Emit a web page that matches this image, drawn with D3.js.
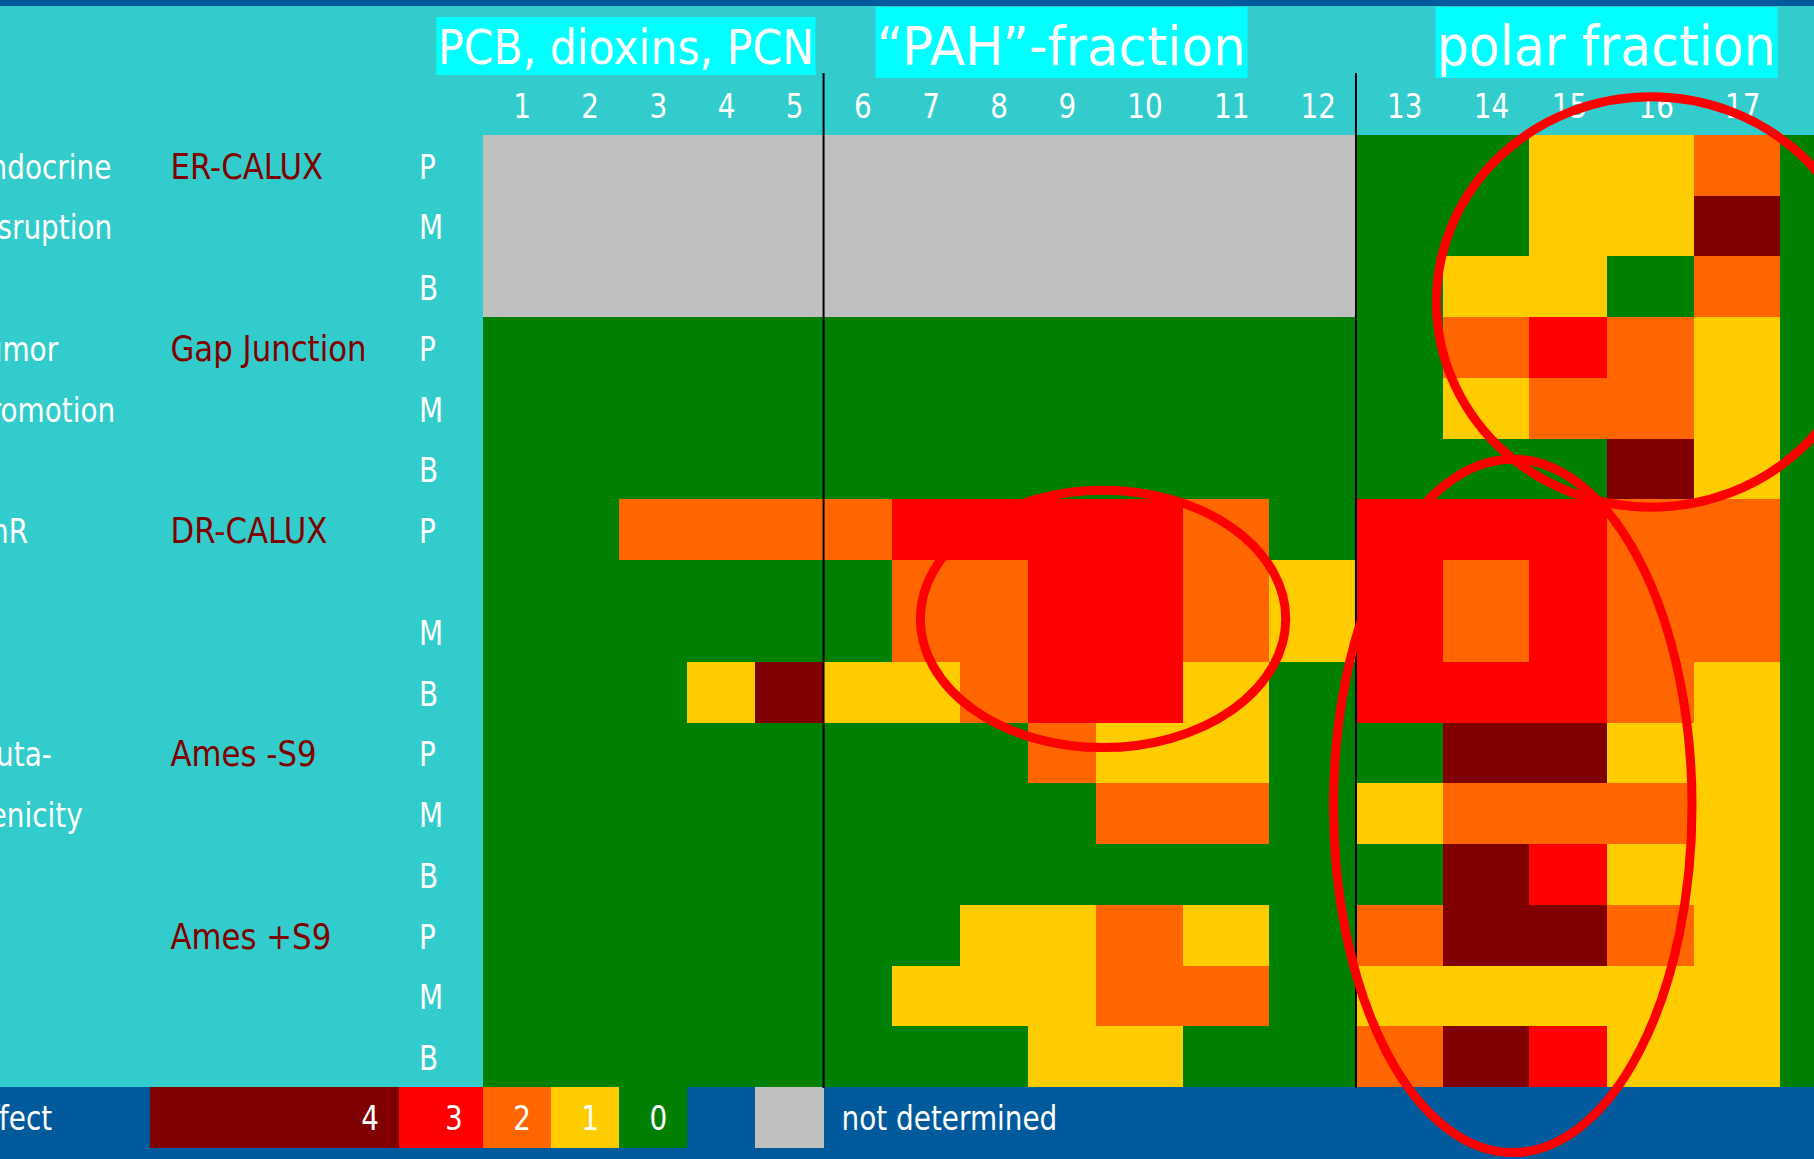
<!DOCTYPE html>
<html>
<head>
<meta charset="utf-8">
<script src="https://cdn.jsdelivr.net/npm/d3@7"></script>
<style>
  html, body { margin: 0; padding: 0; background: #33cccc; overflow: hidden; }
  text { font-family: "DejaVu Sans", Verdana, sans-serif; }
</style>
</head>
<body>
<script>
// column numbers (samples), grouped by fraction
var columns = [1, 2, 3, 4, 5, 6, 7, 8, 9, 10, 11, 12, 13, 14, 15, 16, 17, 18];
var fractionTitles = ["PCB, dioxins, PCN", "\u201CPAH\u201D-fraction", "polar fraction"];
var fractionEnds = [5, 12, 18];   // last column of each fraction

var assays = ["ER-CALUX", "Gap Junction", "DR-CALUX", "Ames -S9", "Ames +S9"];
var endpoints = [["Endocrine", "disruption"], ["Tumor", "promotion"], ["AhR"], ["Muta-", "genicity"], []];
var sampleTypes = ["P", "M", "B"];

// effect score per column (null = not determined)
var n = null;
var erCalux = [
  [n, n, n, n, n, n, n, n, n, n, n, n, 0, 0, 1, 1, 2, 0],
  [n, n, n, n, n, n, n, n, n, n, n, n, 0, 0, 1, 1, 4, 0],
  [n, n, n, n, n, n, n, n, n, n, n, n, 0, 1, 1, 0, 2, 0]
];
var gapJunction = [
  [0, 0, 0, 0, 0, 0, 0, 0, 0, 0, 0, 0, 0, 2, 3, 2, 1, 0],
  [0, 0, 0, 0, 0, 0, 0, 0, 0, 0, 0, 0, 0, 1, 2, 2, 1, 0],
  [0, 0, 0, 0, 0, 0, 0, 0, 0, 0, 0, 0, 0, 0, 0, 4, 1, 0]
];
var drCalux = [
  [0, 0, 2, 2, 2, 2, 3, 3, 3, 3, 2, 0, 3, 3, 3, 2, 2, 0],
  [0, 0, 0, 0, 0, 0, 2, 2, 3, 3, 2, 1, 3, 2, 3, 2, 2, 0],
  [0, 0, 0, 1, 4, 1, 1, 2, 3, 3, 1, 0, 3, 3, 3, 2, 1, 0]
];
var amesMinusS9 = [
  [0, 0, 0, 0, 0, 0, 0, 0, 2, 1, 1, 0, 0, 4, 4, 1, 1, 0],
  [0, 0, 0, 0, 0, 0, 0, 0, 0, 2, 2, 0, 1, 2, 2, 2, 1, 0],
  [0, 0, 0, 0, 0, 0, 0, 0, 0, 0, 0, 0, 0, 4, 3, 1, 1, 0]
];
var amesPlusS9 = [
  [0, 0, 0, 0, 0, 0, 0, 1, 1, 2, 1, 0, 2, 4, 4, 2, 1, 0],
  [0, 0, 0, 0, 0, 0, 1, 1, 1, 2, 2, 0, 1, 1, 1, 1, 1, 0],
  [0, 0, 0, 0, 0, 0, 0, 0, 1, 1, 0, 0, 2, 4, 3, 1, 1, 0]
];
var scores = [erCalux, gapJunction, drCalux, amesMinusS9, amesPlusS9];

var effectLevels = [4, 3, 2, 1, 0];
var effectColors = ["#800000", "#ff0000", "#ff6600", "#ffcc00", "#008000"];
var notDeterminedColor = "#c0c0c0";

var w = 1814, h = 1159;
var blue = "#005a9c", white = "#ffffff", darkRed = "#800000";

var svg = d3.select("body").append("svg")
  .attr("width", w)
  .attr("height", h);

svg.append("rect").attr("width", w).attr("height", h).style("fill", "#33cccc");
svg.append("rect").attr("width", w).attr("height", 6).style("fill", blue);

// column widths in units (two-digit columns are wider)
var colUnits = columns.map(function(c) { return c < 10 ? 1 : (c == 15 ? 1.147 : 1.27); });
var colEdges = [0];
colUnits.forEach(function(u, i) { colEdges.push(colEdges[i] + u); });
var x = d3.scaleLinear()
  .domain([0, 1])
  .range([482.7, 482.7 + 68.17]);

// rows
var rows = [];
var yCursor = 0;
assays.forEach(function(a, ai) {
  sampleTypes.forEach(function(s, si) {
    var hUnits = (a == "DR-CALUX" && s == "M") ? 1.68 : 1;
    rows.push({assay: ai, type: si, y0: yCursor, y1: yCursor + hUnits, values: scores[ai][si]});
    yCursor += hUnits;
  });
});
var y = d3.scaleLinear()
  .domain([0, yCursor])
  .range([135, 1087]);

function color(v) {
  return v === null ? notDeterminedColor : effectColors[effectLevels.indexOf(v)];
}

function addText(g, tx, ty, str, opt) {
  opt = opt || {};
  return g.append("text")
    .attr("transform", "translate(" + tx + "," + ty + ") scale(" + (opt.sx || 0.82) + ",1)")
    .attr("text-anchor", opt.anchor || "start")
    .attr("font-size", opt.size || 34)
    .style("fill", opt.fill || white)
    .text(str);
}

// cells
var cells = svg.append("g").attr("shape-rendering", "crispEdges");
rows.forEach(function(r) {
  cells.selectAll(null)
    .data(r.values)
    .enter().append("rect")
    .attr("x", function(d, i) { return x(colEdges[i]); })
    .attr("width", function(d, i) { return x(colEdges[i + 1]) - x(colEdges[i]); })
    .attr("y", y(r.y0))
    .attr("height", y(r.y1) - y(r.y0))
    .style("fill", color);
});

// row labels
var labels = svg.append("g");
rows.forEach(function(r) {
  var base = y(r.y1) - 17;
  addText(labels, 419, base, sampleTypes[r.type]);
  var ep = endpoints[r.assay][r.type];
  if (ep) addText(labels, -28, base, ep);
  if (r.type == 0) addText(labels, 170.5, base, assays[r.assay], {fill: darkRed, size: 35, sx: 0.88});
});

// column numbers
var colLabels = svg.append("g");
columns.forEach(function(c, i) {
  addText(colLabels, x(colEdges[i + 1]) - 20, 118, c, {anchor: "end"});
});

// fraction titles with cyan boxes
var titleLayout = [
  {x: 438, width: 376, size: 48, base: 64.3, top: 17, bottom: 75},
  {x: 877, width: 369, size: 53, base: 65, top: 7, bottom: 78},
  {x: 1437, width: 339, size: 55, base: 65, top: 7, bottom: 78}
];
fractionTitles.forEach(function(t, i) {
  var L = titleLayout[i];
  svg.append("rect")
    .attr("x", L.x - 1.5).attr("y", L.top)
    .attr("width", L.width + 3).attr("height", L.bottom - L.top)
    .style("fill", "#00ffff");
  svg.append("text")
    .attr("x", L.x).attr("y", L.base)
    .attr("textLength", L.width)
    .attr("lengthAdjust", "spacingAndGlyphs")
    .attr("font-size", L.size)
    .style("fill", white)
    .text(t);
});

// legend bar
var legendTop = y(yCursor);
svg.append("rect").attr("x", 0).attr("y", legendTop).attr("width", w).attr("height", h - legendTop).style("fill", blue);
var legendEdges = [150, 399, x(0), x(1), x(2), x(3)];
var legend = svg.append("g");
effectLevels.forEach(function(lv, i) {
  legend.append("rect")
    .attr("x", legendEdges[i]).attr("y", legendTop)
    .attr("width", legendEdges[i + 1] - legendEdges[i]).attr("height", 60.7)
    .attr("shape-rendering", "crispEdges")
    .style("fill", effectColors[i]);
  addText(legend, legendEdges[i + 1] - 20, legendTop + 43, lv, {anchor: "end"});
});
legend.append("rect")
  .attr("x", x(4)).attr("y", legendTop)
  .attr("width", x(5) - x(4)).attr("height", 60.7)
  .attr("shape-rendering", "crispEdges")
  .style("fill", notDeterminedColor);
addText(legend, x(5) + 18, legendTop + 43, "not determined");
addText(legend, -28, legendTop + 43, "Effect");

// fraction dividers
[fractionEnds[0], fractionEnds[1]].forEach(function(c) {
  svg.append("line")
    .attr("x1", x(colEdges[c])).attr("x2", x(colEdges[c]))
    .attr("y1", 73).attr("y2", legendTop + 1)
    .style("stroke", "#000").style("stroke-width", 2);
});

// red highlight ellipses (in column / row units)
var highlights = [
  {cu: 9.1, rv: 7.97, ru: 2.68, rr: 2.12},
  {cu: 17.14, rv: 2.75, ru: 3.15, rr: 3.38},
  {cu: 15.11, rv: 11.05, ru: 2.63, rr: 5.71}
];
var unitY = y(1) - y(0);
svg.append("g").selectAll("ellipse")
  .data(highlights)
  .enter().append("ellipse")
  .attr("cx", function(d) { return x(d.cu); })
  .attr("cy", function(d) { return y(d.rv); })
  .attr("rx", function(d) { return x(d.ru) - x(0); })
  .attr("ry", function(d) { return d.rr * unitY; })
  .style("fill", "none")
  .style("stroke", "#ff0000")
  .style("stroke-width", 9);
</script>
</body>
</html>
